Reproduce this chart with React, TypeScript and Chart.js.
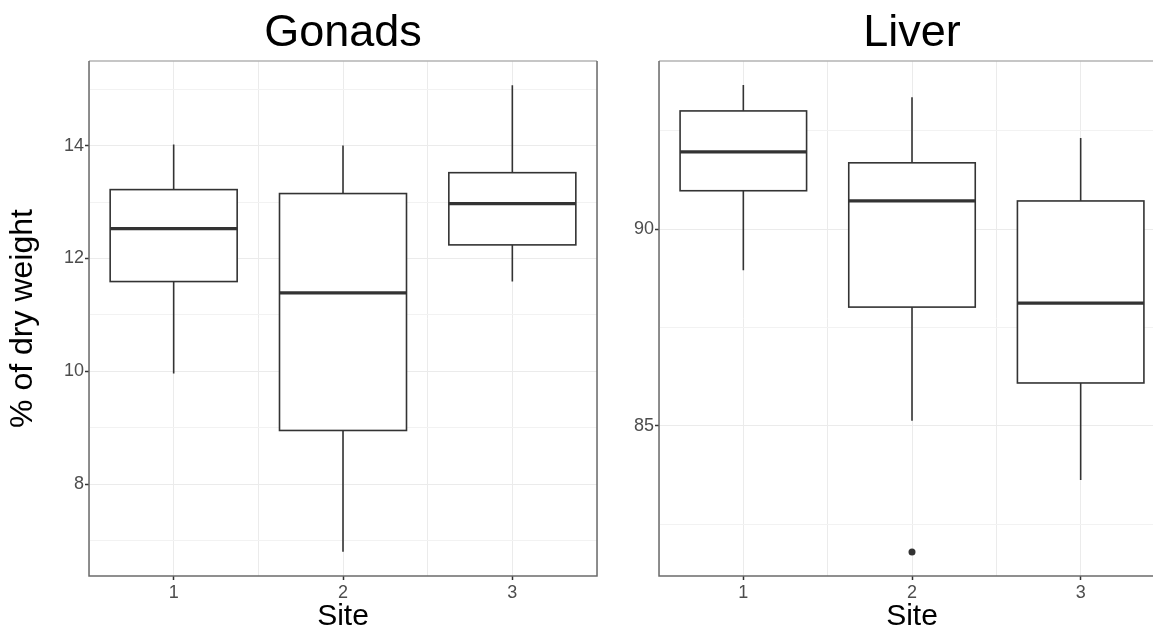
import React, { useEffect, useRef } from 'react';
import { Chart, registerables } from 'chart.js';
Chart.register(...registerables);

const FONT = "'Liberation Sans', Arial, Helvetica, sans-serif";

// ---- data ----
const sites = [1, 2, 3];

const gonadsMin = [9.96, 6.8, 11.59];
const gonadsQ1 = [11.59, 8.95, 12.24];
const gonadsMedian = [12.53, 11.39, 12.97];
const gonadsQ3 = [13.22, 13.15, 13.52];
const gonadsMax = [14.02, 14.0, 15.07];
const gonadsOutlierSites: number[] = [];
const gonadsOutlierValues: number[] = [];

const liverMin = [88.96, 85.13, 83.62];
const liverQ1 = [90.98, 88.02, 86.09];
const liverMedian = [91.97, 90.72, 88.12];
const liverQ3 = [93.01, 91.69, 90.72];
const liverMax = [93.67, 93.36, 92.32];
const liverOutlierSites = [2];
const liverOutlierValues = [81.79];

const BOX_WIDTH = 0.75;

type Stats = { min: number[]; q1: number[]; med: number[]; q3: number[]; max: number[] };

function boxPlugin(s: Stats) {
  return {
    id: 'boxes',
    afterDatasetsDraw(chart: any) {
      const { ctx, scales } = chart;
      const x = scales.x;
      const y = scales.y;
      ctx.save();
      ctx.strokeStyle = '#333333';
      sites.forEach((site, i) => {
        const cx = x.getPixelForValue(site);
        const l = x.getPixelForValue(site - BOX_WIDTH / 2);
        const r = x.getPixelForValue(site + BOX_WIDTH / 2);
        const yMax = y.getPixelForValue(s.max[i]);
        const yQ3 = y.getPixelForValue(s.q3[i]);
        const yMed = y.getPixelForValue(s.med[i]);
        const yQ1 = y.getPixelForValue(s.q1[i]);
        const yMin = y.getPixelForValue(s.min[i]);
        ctx.lineWidth = 1.6;
        ctx.beginPath();
        ctx.moveTo(cx, yMax);
        ctx.lineTo(cx, yQ3);
        ctx.moveTo(cx, yQ1);
        ctx.lineTo(cx, yMin);
        ctx.stroke();
        ctx.fillStyle = '#ffffff';
        ctx.fillRect(l, yQ3, r - l, yQ1 - yQ3);
        ctx.strokeRect(l, yQ3, r - l, yQ1 - yQ3);
        ctx.lineWidth = 3.2;
        ctx.beginPath();
        ctx.moveTo(l, yMed);
        ctx.lineTo(r, yMed);
        ctx.stroke();
      });
      ctx.restore();
    },
  };
}

const framePlugin = {
  id: 'frame',
  afterDraw(chart: any) {
    const { ctx, chartArea } = chart;
    const { left, right, top, bottom } = chartArea;
    ctx.save();
    ctx.lineWidth = 1.5;
    ctx.strokeStyle = '#b3b3b3';
    ctx.beginPath();
    ctx.moveTo(left, top);
    ctx.lineTo(right, top);
    ctx.stroke();
    ctx.strokeStyle = '#6b6b6b';
    ctx.beginPath();
    ctx.moveTo(left, top);
    ctx.lineTo(left, bottom);
    ctx.lineTo(right, bottom);
    ctx.lineTo(right, top);
    ctx.stroke();
    ctx.restore();
  },
};

type PanelSpec = {
  title: string;
  stats: Stats;
  outlierSites: number[];
  outlierValues: number[];
  yMin: number;
  yMax: number;
  yStep: number;
  yMajor: number;
  yAxisWidth: number;
  yTitle: string;
  padRight: number;
};

function makeConfig(p: PanelSpec): any {
  const isMajorY = (v: number) => Math.abs(v / p.yMajor - Math.round(v / p.yMajor)) < 1e-6;
  const isMajorX = (v: number) => Math.abs(v - Math.round(v)) < 1e-6;
  return {
    type: 'scatter',
    data: {
      datasets: [
        {
          data: p.outlierSites.map((s, i) => ({ x: s, y: p.outlierValues[i] })),
          pointRadius: 3.5,
          pointBackgroundColor: '#333333',
          pointBorderColor: '#333333',
          pointBorderWidth: 0,
        },
      ],
    },
    options: {
      animation: false,
      responsive: false,
      events: [],
      layout: { padding: { left: 0, right: p.padRight, top: 0, bottom: 0 } },
      plugins: {
        legend: { display: false },
        tooltip: { enabled: false },
        title: {
          display: true,
          text: p.title,
          fullSize: false,
          color: '#000000',
          font: { family: FONT, size: 45, weight: 'normal', lineHeight: 1.2 },
          padding: { top: 7, bottom: 0 },
        },
      },
      scales: {
        x: {
          type: 'linear',
          min: 0.5,
          max: 3.5,
          afterFit: (s: any) => {
            s.height = 55;
          },
          ticks: {
            stepSize: 0.5,
            includeBounds: false,
            autoSkip: false,
            maxRotation: 0,
            color: '#4d4d4d',
            font: { family: FONT, size: 18 },
            padding: 2,
            callback: (v: number) => (isMajorX(v) ? String(Math.round(v)) : ''),
          },
          grid: {
            color: '#ebebeb',
            lineWidth: 1,
            tickLength: 4,
            tickWidth: 1.5,
            tickColor: (c: any) => (c.tick && isMajorX(c.tick.value) ? '#333333' : 'rgba(0,0,0,0)'),
          },
          border: { display: false },
          title: {
            display: true,
            text: 'Site',
            color: '#000000',
            font: { family: FONT, size: 30, lineHeight: 0.9 },
            padding: { top: 0, bottom: 0.5 },
          },
        },
        y: {
          type: 'linear',
          min: p.yMin,
          max: p.yMax,
          afterFit: (s: any) => {
            s.width = p.yAxisWidth;
          },
          ticks: {
            stepSize: p.yStep,
            includeBounds: false,
            autoSkip: false,
            color: '#4d4d4d',
            font: { family: FONT, size: 18 },
            padding: 1,
            callback: (v: number) => (isMajorY(v) ? String(Math.round(v)) : ''),
          },
          grid: {
            color: (c: any) => (c.tick && isMajorY(c.tick.value) ? '#ebebeb' : '#f2f2f2'),
            lineWidth: 1,
            tickLength: 4,
            tickWidth: 1.5,
            tickColor: (c: any) => (c.tick && isMajorY(c.tick.value) ? '#333333' : 'rgba(0,0,0,0)'),
          },
          border: { display: false },
          title: {
            display: p.yTitle !== '',
            text: p.yTitle,
            color: '#000000',
            font: { family: FONT, size: 32, lineHeight: 0.9 },
            padding: { top: 8.6, bottom: 0 },
          },
        },
      },
    },
    plugins: [boxPlugin(p.stats), framePlugin],
  };
}

function Panel({ spec, left }: { spec: PanelSpec; left: number }) {
  const ref = useRef<HTMLCanvasElement | null>(null);
  useEffect(() => {
    if (!ref.current) return;
    const chart = new Chart(ref.current, makeConfig(spec));
    return () => chart.destroy();
  }, [spec]);
  return (
    <canvas
      ref={ref}
      width={600}
      height={631}
      style={{ position: 'absolute', left, top: 0, width: 600, height: 631 }}
    />
  );
}

const gonadsSpec: PanelSpec = {
  title: 'Gonads',
  stats: { min: gonadsMin, q1: gonadsQ1, med: gonadsMedian, q3: gonadsQ3, max: gonadsMax },
  outlierSites: gonadsOutlierSites,
  outlierValues: gonadsOutlierValues,
  yMin: 6.37,
  yMax: 15.5,
  yStep: 1,
  yMajor: 2,
  yAxisWidth: 89,
  yTitle: '% of dry weight',
  padRight: 3,
};

const liverSpec: PanelSpec = {
  title: 'Liver',
  stats: { min: liverMin, q1: liverQ1, med: liverMedian, q3: liverQ3, max: liverMax },
  outlierSites: liverOutlierSites,
  outlierValues: liverOutlierValues,
  yMin: 81.18,
  yMax: 94.28,
  yStep: 2.5,
  yMajor: 5,
  yAxisWidth: 59,
  yTitle: '',
  padRight: 35,
};

export default function App() {
  return (
    <div
      style={{
        position: 'fixed',
        left: 0,
        top: 0,
        width: 1153,
        height: 631,
        overflow: 'hidden',
        background: '#ffffff',
      }}
    >
      <Panel spec={gonadsSpec} left={0} />
      <Panel spec={liverSpec} left={600} />
    </div>
  );
}
